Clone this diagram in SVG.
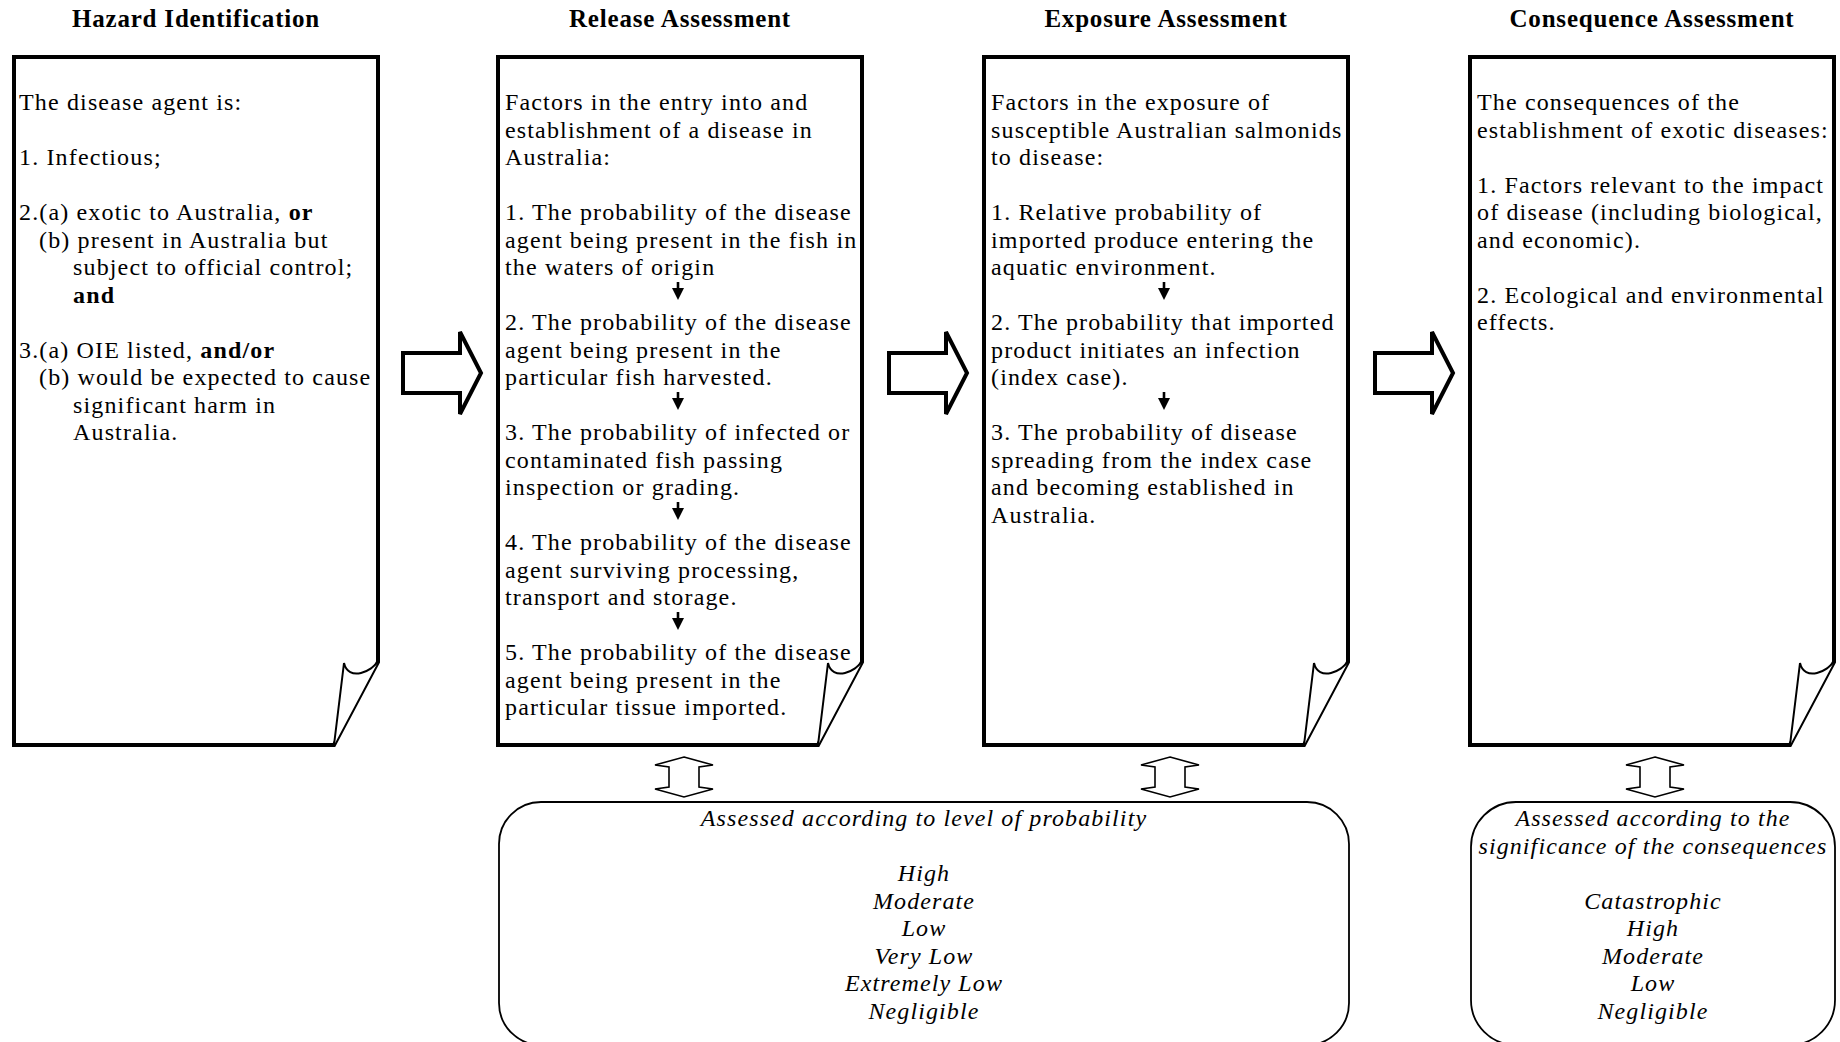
<svg xmlns="http://www.w3.org/2000/svg" width="1840" height="1042" viewBox="0 0 1840 1042">
<style>
.title{font-family:"Liberation Serif","Times New Roman",serif;font-size:25px;font-weight:bold;letter-spacing:0.8px;text-anchor:middle;fill:#000}
.body{font-family:"Liberation Serif","Times New Roman",serif;font-size:24px;letter-spacing:1.15px;fill:#000}
.ital{font-family:"Liberation Serif","Times New Roman",serif;font-size:24px;font-style:italic;letter-spacing:1.1px;text-anchor:middle;fill:#000}
.b{font-weight:bold}
.doc{fill:#fff;stroke:#000;stroke-width:4;stroke-linejoin:miter}
.curl{fill:#fff;stroke:#000;stroke-width:2}
.rbox{fill:#fff;stroke:#000;stroke-width:1.8}
.blk{fill:#fff;stroke:#000;stroke-width:4;stroke-linejoin:miter}
.dbl{fill:#fff;stroke:#000;stroke-width:1.6;stroke-linejoin:miter}
.sm{stroke:#000;stroke-width:2.6}
</style>
<rect x="0" y="0" width="1840" height="1042" fill="#fff"/>

<g id="hazard">
<text class="title" x="196" y="27">Hazard Identification</text>
<path class="doc" d="M14,57 H378 V662 L334,745 H14 Z"/>
<path class="curl" d="M334,745 L344,663 C346,672 353,675 361,673 C369,671 373,667 378,662"/>
<text class="body" x="19" y="110">The disease agent is:</text>
<text class="body" x="19" y="165">1. Infectious;</text>
<text class="body" x="19" y="220">2.(a) exotic to Australia, <tspan class="b">or</tspan></text>
<text class="body" x="39" y="247.5">(b) present in Australia but</text>
<text class="body" x="73" y="275">subject to official control;</text>
<text class="body b" x="73" y="302.5">and</text>
<text class="body" x="19" y="357.5">3.(a) OIE listed, <tspan class="b">and/or</tspan></text>
<text class="body" x="39" y="385">(b) would be expected to cause</text>
<text class="body" x="73" y="412.5">significant harm in</text>
<text class="body" x="73" y="440">Australia.</text>
</g>

<g id="release">
<text class="title" x="680" y="27">Release Assessment</text>
<path class="doc" d="M498,57 H862 V662 L818,745 H498 Z"/>
<path class="curl" d="M818,745 L828,663 C830,672 837,675 845,673 C853,671 857,667 862,662"/>
<text class="body" x="505" y="110">Factors in the entry into and</text>
<text class="body" x="505" y="137.5">establishment of a disease in</text>
<text class="body" x="505" y="165">Australia:</text>
<text class="body" x="505" y="220">1. The probability of the disease</text>
<text class="body" x="505" y="247.5">agent being present in the fish in</text>
<text class="body" x="505" y="275">the waters of origin</text>
<text class="body" x="505" y="330">2. The probability of the disease</text>
<text class="body" x="505" y="357.5">agent being present in the</text>
<text class="body" x="505" y="385">particular fish harvested.</text>
<text class="body" x="505" y="440">3. The probability of infected or</text>
<text class="body" x="505" y="467.5">contaminated fish passing</text>
<text class="body" x="505" y="495">inspection or grading.</text>
<text class="body" x="505" y="550">4. The probability of the disease</text>
<text class="body" x="505" y="577.5">agent surviving processing,</text>
<text class="body" x="505" y="605">transport and storage.</text>
<text class="body" x="505" y="660">5. The probability of the disease</text>
<text class="body" x="505" y="687.5">agent being present in the</text>
<text class="body" x="505" y="715">particular tissue imported.</text>
</g>

<g id="exposure">
<text class="title" x="1166" y="27">Exposure Assessment</text>
<path class="doc" d="M984,57 H1348 V662 L1304,745 H984 Z"/>
<path class="curl" d="M1304,745 L1314,663 C1316,672 1323,675 1331,673 C1339,671 1343,667 1348,662"/>
<text class="body" x="991" y="110">Factors in the exposure of</text>
<text class="body" x="991" y="137.5">susceptible Australian salmonids</text>
<text class="body" x="991" y="165">to disease:</text>
<text class="body" x="991" y="220">1. Relative probability of</text>
<text class="body" x="991" y="247.5">imported produce entering the</text>
<text class="body" x="991" y="275">aquatic environment.</text>
<text class="body" x="991" y="330">2. The probability that imported</text>
<text class="body" x="991" y="357.5">product initiates an infection</text>
<text class="body" x="991" y="385">(index case).</text>
<text class="body" x="991" y="440">3. The probability of disease</text>
<text class="body" x="991" y="467.5">spreading from the index case</text>
<text class="body" x="991" y="495">and becoming established in</text>
<text class="body" x="991" y="522.5">Australia.</text>
</g>

<g id="consequence">
<text class="title" x="1652" y="27">Consequence Assessment</text>
<path class="doc" d="M1470,57 H1834 V662 L1790,745 H1470 Z"/>
<path class="curl" d="M1790,745 L1800,663 C1802,672 1809,675 1817,673 C1825,671 1829,667 1834,662"/>
<text class="body" x="1477" y="110">The consequences of the</text>
<text class="body" x="1477" y="137.5">establishment of exotic diseases:</text>
<text class="body" x="1477" y="192.5">1. Factors relevant to the impact</text>
<text class="body" x="1477" y="220">of disease (including biological,</text>
<text class="body" x="1477" y="247.5">and economic).</text>
<text class="body" x="1477" y="302.5">2. Ecological and environmental</text>
<text class="body" x="1477" y="330">effects.</text>
</g>

<g id="probability-scale">
<rect class="rbox" x="499" y="802" width="850" height="243" rx="42" ry="42"/>
<text class="ital" x="924" y="826">Assessed according to level of probability</text>
<text class="ital" x="924" y="881">High</text>
<text class="ital" x="924" y="908.5">Moderate</text>
<text class="ital" x="924" y="936">Low</text>
<text class="ital" x="924" y="963.5">Very Low</text>
<text class="ital" x="924" y="991">Extremely Low</text>
<text class="ital" x="924" y="1018.5">Negligible</text>
</g>

<g id="consequence-scale">
<rect class="rbox" x="1471" y="802" width="364" height="243" rx="45" ry="45"/>
<text class="ital" x="1653" y="826">Assessed according to the</text>
<text class="ital" x="1653" y="853.5">significance of the consequences</text>
<text class="ital" x="1653" y="908.5">Catastrophic</text>
<text class="ital" x="1653" y="936">High</text>
<text class="ital" x="1653" y="963.5">Moderate</text>
<text class="ital" x="1653" y="991">Low</text>
<text class="ital" x="1653" y="1018.5">Negligible</text>
</g>

<g id="connectors">
<path class="blk" d="M403,353 H460 V332 L481,373 L460,414 V393 H403 Z"/>
<path class="blk" d="M889,353 H946 V332 L967,373 L946,414 V393 H889 Z"/>
<path class="blk" d="M1375,353 H1432 V332 L1453,373 L1432,414 V393 H1375 Z"/>

<path class="dbl" d="M684,757 L713,765 L699,767 V787 L713,789 L684,797 L655,789 L669,787 V767 L655,765 Z"/>
<path class="dbl" d="M1170,757 L1199,765 L1185,767 V787 L1199,789 L1170,797 L1141,789 L1155,787 V767 L1141,765 Z"/>
<path class="dbl" d="M1655,757 L1684,765 L1670,767 V787 L1684,789 L1655,797 L1626,789 L1640,787 V767 L1626,765 Z"/>

<g id="small-arrows">
<line class="sm" x1="678" y1="282" x2="678" y2="290"/><polygon points="672,288 684,288 678,300"/>
<line class="sm" x1="678" y1="392" x2="678" y2="400"/><polygon points="672,398 684,398 678,410"/>
<line class="sm" x1="678" y1="502" x2="678" y2="510"/><polygon points="672,508 684,508 678,520"/>
<line class="sm" x1="678" y1="612" x2="678" y2="620"/><polygon points="672,618 684,618 678,630"/>
<line class="sm" x1="1164" y1="282" x2="1164" y2="290"/><polygon points="1158,288 1170,288 1164,300"/>
<line class="sm" x1="1164" y1="392" x2="1164" y2="400"/><polygon points="1158,398 1170,398 1164,410"/>
</g>
</g>
</svg>
